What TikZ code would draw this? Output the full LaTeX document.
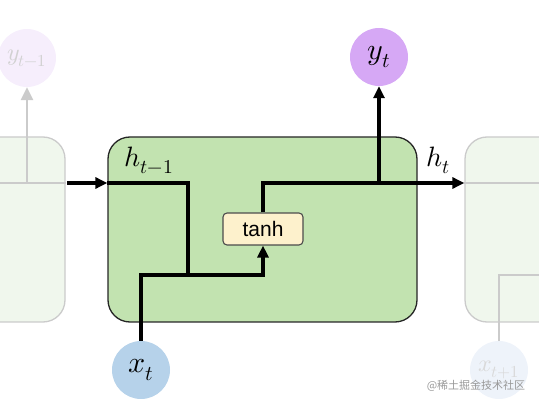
\documentclass[tikz,border=0pt]{standalone}
\usepackage{fontspec}
\usepackage{unicode-math}
\setmathfont{Latin Modern Math}
\setsansfont{Liberation Sans}
\newfontfamily\cjk{Noto Sans CJK SC}
\usepackage{xcolor}
\usepackage{tikz}
\usetikzlibrary{positioning}
\usetikzlibrary{arrows.meta}
\definecolor{cellgreen}{HTML}{C2E3B0}
\definecolor{ghostgreen}{HTML}{F0F7ED}
\definecolor{ghostline}{HTML}{CBCBCB}
\definecolor{ypurple}{HTML}{D6A8F5}
\definecolor{ghostpurple}{HTML}{F6EEFC}
\definecolor{xblue}{HTML}{B6D2EA}
\definecolor{ghostblue}{HTML}{EEF3FA}
\definecolor{tanhfill}{HTML}{FDF1CC}

\begin{document}
\begin{tikzpicture}[x=1pt, y=-1pt,
	cell/.style={draw=black!85, line width=1.3pt, fill=cellgreen,
		rounded corners=22pt, minimum width=309pt, minimum height=185pt, inner sep=0pt},
	ghost/.style={draw=ghostline, line width=1.3pt, fill=ghostgreen,
		rounded corners=22pt, minimum width=184pt, minimum height=185pt, inner sep=0pt},
	unit/.style={circle, minimum size=58pt, inner sep=0pt,
		font=\fontsize{30}{34}\selectfont},
	gate/.style={draw=black!70, line width=1.1pt, fill=tanhfill, rounded corners=4pt,
		minimum width=80pt, minimum height=32pt, inner sep=0pt,
		font=\sffamily\fontsize{21}{24}\selectfont},
	flow/.style={draw, line width=3.6pt},
	ghostflow/.style={draw=ghostline, line width=2.6pt},
	tip/.style={-{Triangle[length=12pt,width=11pt]}},
	lbl/.style={font=\fontsize{28}{32}\selectfont}]
	\useasboundingbox (0,0) rectangle (539,406);
	\clip (0,0) rectangle (539,406);
	%% cells
	\node [ghost] (prev) at (-27,229.5) {};
	\node [cell] (cell) at (262.5,229.5) {};
	\node [ghost] (next) at (557,229.5) {};
	\node [gate] (tanh) at (263,229) {tanh};
	%% inputs and outputs
	\node [unit, fill=ypurple] (yt) at (379,57) {$y_t$};
	\node [unit, fill=xblue] (xt) at (141,370) {$x_t$};
	\node [unit, fill=ghostpurple, text=black!18, font=\fontsize{24}{28}\selectfont] (yprev) at (27,58) {$y_{t-1}$};
	\node [unit, fill=ghostblue, text=black!15, font=\fontsize{24}{28}\selectfont] (xnext) at (499,370) {$x_{t+1}$};
	%% junctions
	\coordinate (hin) at (cell.west |- 0,183);
	\coordinate (hsplit) at (188,183);
	\coordinate (mix) at (188,275);
	\coordinate (hout) at (tanh.north |- 0,183);
	\coordinate (ysplit) at (yt.south |- 0,183);
	\coordinate (nin) at (next.west |- 0,183);
	%% ghost flows
	\path [ghostflow] (0,183) -- (prev.east |- 0,183);
	\path [ghostflow, -{Triangle[length=13pt,width=12pt]}] (27,183) -- (yprev);
	\path [ghostflow] (nin) -- (539,183);
	\path [ghostflow] (xnext) -- (499,275) -- (539,275);
	%% flows
	\path [flow, tip] (67,183) -- (hin);
	\path [flow] (hin) -- (hsplit) -- (mix);
	\path [flow, tip] (xt) -- (141,275) -- (tanh.south |- 0,275) -- (tanh.south);
	\path [flow] (tanh.north) -- (hout) -- (ysplit);
	\path [flow, tip] (ysplit) -- (yt);
	\path [flow, tip] (ysplit) -- (nin);
	%% labels
	\node [lbl] (hprevlabel) at (149,160) {$h_{t-1}$};
	\node [lbl] (hlabel) at (438,160) {$h_t$};
	\node [font=\cjk\fontsize{11}{13}\selectfont, text=black!40] (mark) at (476,386) {@稀土掘金技术社区};
\end{tikzpicture}
\end{document}
